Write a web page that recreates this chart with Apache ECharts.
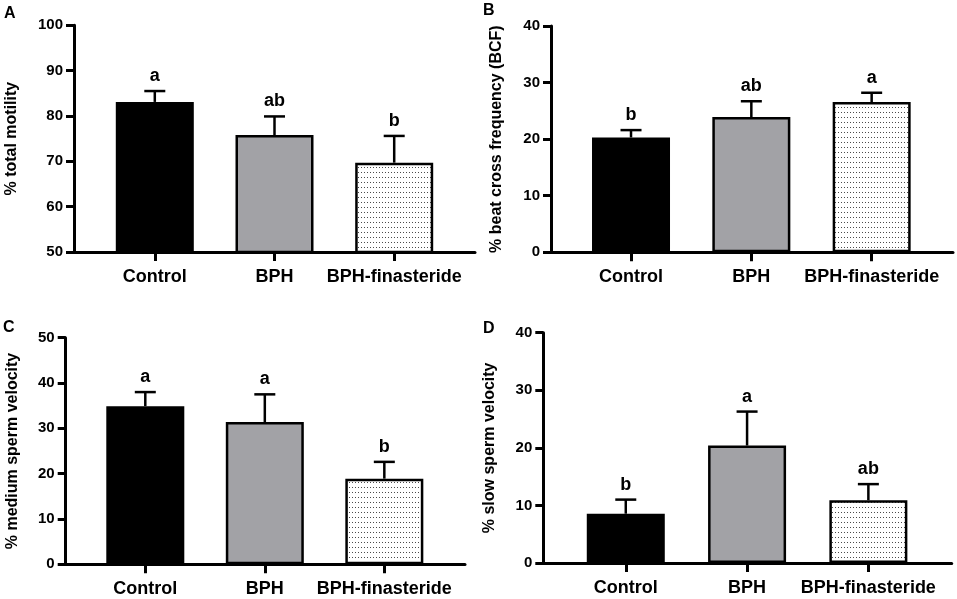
<!DOCTYPE html>
<html>
<head>
<meta charset="utf-8">
<script src="https://cdn.jsdelivr.net/npm/echarts@6/dist/echarts.min.js"></script>
<style>
html,body{margin:0;padding:0;background:#fff;}
#chart{width:957px;height:599px;}
</style>
</head>
<body>
<div id="chart"></div>
<script>
// ---- data ----
var categories = ['Control', 'BPH', 'BPH-finasteride'];

var motilityMean = [83.1, 75.8, 69.7];
var motilityErr  = [2.4, 4.1, 5.9];
var motilityLetters = ['a', 'ab', 'b'];

var bcfMean = [20.3, 23.9, 26.55];
var bcfErr  = [1.3, 2.8, 1.65];
var bcfLetters = ['b', 'ab', 'a'];

var mediumMean = [34.9, 31.4, 18.9];
var mediumErr  = [3.1, 6.1, 3.7];
var mediumLetters = ['a', 'a', 'b'];

var slowMean = [8.56, 20.4, 10.9];
var slowErr  = [2.45, 5.9, 2.8];
var slowLetters = ['b', 'a', 'ab'];

var yTitles = ['% total motility', '% beat cross frequency (BCF)', '% medium sperm velocity', '% slow sperm velocity'];
var panelLetters = ['A', 'B', 'C', 'D'];
var yRanges = [[50, 100, 10], [0, 40, 10], [0, 50, 10], [0, 40, 10]];

// ---- layout / style ----
var FONT = '"Liberation Sans", Arial, Helvetica, sans-serif';
var layouts = [
  {left: 74,    top: 25.3,  width: 401,   height: 226.7, xmin: -0.675, xmax: 2.675, nameGap: 54, letterPos: [4, 6]},
  {left: 551,   top: 26,    width: 402,   height: 226.3, xmin: -0.665, xmax: 2.676, nameGap: 46, letterPos: [483, 3]},
  {left: 65.7,  top: 337.7, width: 399.3, height: 226.6, xmin: -0.666, xmax: 2.675, nameGap: 45, letterPos: [3, 320]},
  {left: 543.3, top: 332.7, width: 408.4, height: 230.3, xmin: -0.68,  xmax: 2.687, nameGap: 46, letterPos: [483, 321]}
];

function makeDots() {
  var c = document.createElement('canvas');
  c.width = 3; c.height = 5;
  var ctx = c.getContext('2d');
  ctx.fillStyle = '#ffffff';
  ctx.fillRect(0, 0, 3, 5);
  ctx.fillStyle = '#4a4a4a';
  ctx.fillRect(1, 2, 1, 1);
  return c;
}
var dotPattern = {image: makeDots(), repeat: 'repeat'};
var barFills = ['#000000', '#a2a2a6', dotPattern];

var panels = [
  {mean: motilityMean, err: motilityErr, letters: motilityLetters},
  {mean: bcfMean, err: bcfErr, letters: bcfLetters},
  {mean: mediumMean, err: mediumErr, letters: mediumLetters},
  {mean: slowMean, err: slowErr, letters: slowLetters}
];

var grids = [], xAxes = [], yAxes = [], series = [], titles = [];

panels.forEach(function (p, i) {
  var L = layouts[i];
  grids.push({left: L.left, top: L.top, width: L.width, height: L.height, containLabel: false});
  xAxes.push({
    type: 'value', gridIndex: i, min: L.xmin, max: L.xmax,
    splitLine: {show: false},
    axisLine: {show: true, onZero: false, lineStyle: {color: '#000', width: 3}},
    axisTick: {show: true, length: 9, lineStyle: {color: '#000', width: 3}, customValues: [0, 1, 2]},
    axisLabel: {
      show: true, customValues: [0, 1, 2], margin: 16,
      formatter: function (v) { return categories[Math.round(v)]; },
      color: '#000', fontSize: 18, fontWeight: 'bold', fontFamily: FONT
    }
  });
  yAxes.push({
    type: 'value', gridIndex: i,
    min: yRanges[i][0], max: yRanges[i][1], interval: yRanges[i][2],
    name: yTitles[i], nameLocation: 'middle', nameGap: L.nameGap, nameRotate: 90,
    nameTextStyle: {color: '#000', fontSize: 16, fontWeight: 'bold', fontFamily: FONT},
    splitLine: {show: false},
    axisLine: {show: true, onZero: false, lineStyle: {color: '#000', width: 3}},
    axisTick: {show: true, length: 8, lineStyle: {color: '#000', width: 3}},
    axisLabel: {color: '#000', fontSize: 15, fontWeight: 'bold', fontFamily: FONT, margin: 11}
  });
  titles.push({
    text: panelLetters[i], left: L.letterPos[0], top: L.letterPos[1], padding: 0,
    textStyle: {color: '#000', fontSize: 16, fontWeight: 'bold', fontFamily: FONT}
  });
  series.push({
    type: 'bar', xAxisIndex: i, yAxisIndex: i, barWidth: 78,
    silent: true,
    data: p.mean.map(function (v, k) {
      return {value: [k, v], itemStyle: {color: barFills[k], borderColor: '#000', borderWidth: 2.5}};
    }),
    z: 2
  });
  series.push({
    type: 'custom', xAxisIndex: i, yAxisIndex: i, silent: true, clip: false, z: 3,
    data: p.mean.map(function (v, k) { return [k, v, p.err[k], p.letters[k]]; }),
    renderItem: function (params, api) {
      var x = api.value(0), m = api.value(1), e = api.value(2);
      var letter = p.letters[params.dataIndex];
      var base = api.coord([x, m]);
      var top = api.coord([x, m + e]);
      var half = 10.5;
      return {
        type: 'group',
        children: [
          {type: 'line', shape: {x1: top[0], y1: base[1], x2: top[0], y2: top[1]},
           style: {stroke: '#000', lineWidth: 2.5}},
          {type: 'line', shape: {x1: top[0] - half, y1: top[1], x2: top[0] + half, y2: top[1]},
           style: {stroke: '#000', lineWidth: 2.5}},
          {type: 'text', x: top[0], y: top[1] - 6,
           style: {text: letter, fill: '#000', fontSize: 18, fontWeight: 'bold', fontFamily: FONT,
                   align: 'center', verticalAlign: 'bottom'}}
        ]
      };
    }
  });
});

var chart = echarts.init(document.getElementById('chart'), null, {renderer: 'canvas'});
chart.setOption({
  animation: false,
  backgroundColor: '#fff',
  title: titles,
  grid: grids,
  xAxis: xAxes,
  yAxis: yAxes,
  series: series
});
</script>
</body>
</html>
